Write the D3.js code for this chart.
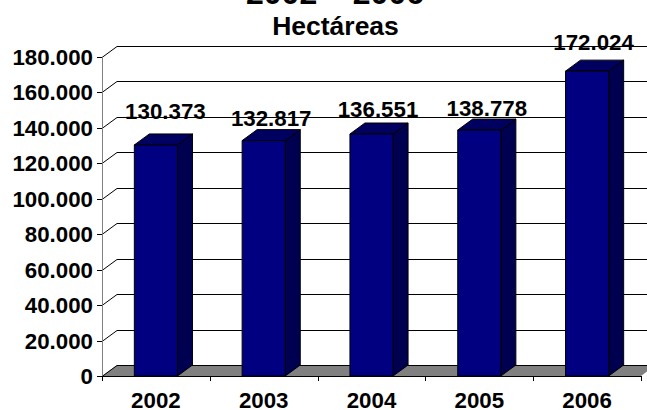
<!DOCTYPE html>
<html>
<head>
<meta charset="utf-8">
<script src="https://cdn.jsdelivr.net/npm/d3@7"></script>
<style>
  html, body { margin: 0; padding: 0; background: #fff; overflow: hidden; }
  text { font-family: "Liberation Sans", Arial, sans-serif; font-weight: bold; fill: #000; }
</style>
</head>
<body>
<script>
var years = ['2002', '2003', '2004', '2005', '2006'];
var hectares = [130373, 132817, 136551, 138778, 172024];
var yTicks = [0, 20000, 40000, 60000, 80000, 100000, 120000, 140000, 160000, 180000];

// hand placed labels in the original, so offsets from the bar top
var labelDx = [2, 0, -1, 0, -1];
var labelDy = [-15, -4, -6, -3, -10];

var width = 647, height = 410;
var depthX = 15, depthY = 11;
var labelSize = '22.3px';

var fmt = function(v) { return d3.format(',')(v).replace(/,/g, '.'); };

var x = d3.scaleBand().domain(years).range([102, 641]).paddingInner(0.6).paddingOuter(0.3);
var xTicks = d3.scaleLinear().domain([0, years.length]).range([102, 641]);
var y = d3.scaleLinear().domain([0, 180000]).range([376, 57]);

var svg = d3.select('body').append('svg')
  .attr('width', width)
  .attr('height', height)
  .style('display', 'block');

// titles, the first one runs off the top like in the original
svg.append('text').attr('x', 335).attr('y', 4).attr('text-anchor', 'middle')
  .style('font-size', '32px').text('2002 – 2006');
svg.append('text').attr('x', 335.5).attr('y', 35).attr('text-anchor', 'middle')
  .style('font-size', '26.5px').text('Hectáreas');

// floor
svg.append('polygon')
  .attr('points', [[102, y(0)], [102 + depthX, y(0) - depthY], [641 + depthX, y(0) - depthY], [641, y(0)]].join(' '))
  .attr('fill', '#808080');

// wall gridlines
var grid = svg.append('g').attr('fill', 'none').attr('stroke', '#000').attr('stroke-width', 1);
grid.selectAll('path').data(yTicks).enter().append('path')
  .attr('d', function(d) {
    var p = d3.path(), py = Math.round(y(d)) + 0.5;
    p.moveTo(102, py);
    p.lineTo(102 + depthX, py - depthY);
    p.lineTo(width, py - depthY);
    return p.toString();
  });

// axes
svg.append('line').attr('x1', 102.5).attr('x2', 102.5).attr('y1', y(180000)).attr('y2', y(0))
  .attr('stroke', '#808080').attr('stroke-width', 1);
svg.append('line').attr('x1', 102).attr('x2', 641).attr('y1', y(0) + 0.5).attr('y2', y(0) + 0.5)
  .attr('stroke', '#000');

svg.selectAll('.ytick').data(yTicks).enter().append('line')
  .attr('class', 'ytick')
  .attr('x1', 97).attr('x2', 102)
  .attr('y1', function(d) { return Math.round(y(d)) + 0.5; })
  .attr('y2', function(d) { return Math.round(y(d)) + 0.5; })
  .attr('stroke', '#000');

svg.selectAll('.xtick').data(d3.range(years.length + 1)).enter().append('line')
  .attr('class', 'xtick')
  .attr('x1', function(d) { return Math.round(xTicks(d)) + 0.5; })
  .attr('x2', function(d) { return Math.round(xTicks(d)) + 0.5; })
  .attr('y1', y(0)).attr('y2', y(0) + 5)
  .attr('stroke', '#000');

svg.selectAll('.ylabel').data(yTicks).enter().append('text')
  .attr('class', 'ylabel')
  .attr('x', 93)
  .attr('y', function(d) { return y(d) + 8; })
  .attr('text-anchor', 'end')
  .style('font-size', labelSize)
  .text(fmt);

svg.selectAll('.xlabel').data(years).enter().append('text')
  .attr('class', 'xlabel')
  .attr('x', function(d) { return x(d) + x.bandwidth() / 2; })
  .attr('y', 408)
  .attr('text-anchor', 'middle')
  .style('font-size', labelSize)
  .text(function(d) { return d; });

// 3d bars
var bars = svg.selectAll('.bar').data(hectares).enter().append('g')
  .attr('class', 'bar')
  .attr('stroke', '#000')
  .attr('stroke-width', 1)
  .attr('stroke-linejoin', 'round');

bars.append('polygon').attr('fill', '#000050')
  .attr('points', function(d, i) {
    var r = x(years[i]) + x.bandwidth();
    return [[r, y(d)], [r + depthX, y(d) - depthY], [r + depthX, y(0) - depthY], [r, y(0)]].join(' ');
  });
bars.append('polygon').attr('fill', '#000060')
  .attr('points', function(d, i) {
    var l = x(years[i]), r = l + x.bandwidth();
    return [[l, y(d)], [l + depthX, y(d) - depthY], [r + depthX, y(d) - depthY], [r, y(d)]].join(' ');
  });
bars.append('rect').attr('fill', '#000080')
  .attr('x', function(d, i) { return x(years[i]); })
  .attr('y', function(d) { return y(d); })
  .attr('width', x.bandwidth())
  .attr('height', function(d) { return y(0) - y(d); });

// value labels
svg.selectAll('.value').data(hectares).enter().append('text')
  .attr('class', 'value')
  .attr('x', function(d, i) { return x(years[i]) + (x.bandwidth() + depthX) / 2 + labelDx[i]; })
  .attr('y', function(d, i) { return y(d) - depthY + labelDy[i]; })
  .attr('text-anchor', 'middle')
  .style('font-size', labelSize)
  .text(fmt);
</script>
</body>
</html>
